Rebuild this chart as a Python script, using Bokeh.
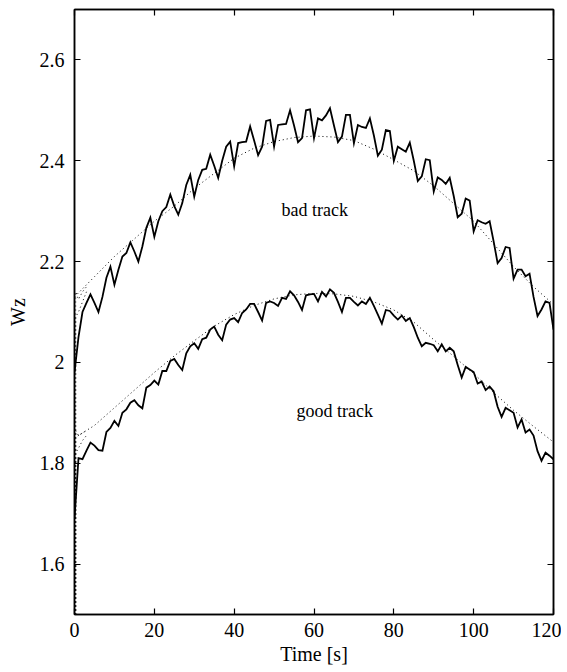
from bokeh.plotting import figure
from bokeh.models import LinearAxis, FixedTicker, Label, CustomJSTickFormatter
from bokeh.embed import file_html
from bokeh.resources import INLINE

# ---- data ----
time_s = list(range(0, 121))

bad_track = [
    1.98, 2.05, 2.10, 2.118, 2.135, 2.118, 2.10, 2.13, 2.168, 2.19,
    2.154, 2.184, 2.21, 2.217, 2.238, 2.22, 2.20, 2.23, 2.267, 2.287,
    2.249, 2.28, 2.30, 2.308, 2.333, 2.31, 2.293, 2.316, 2.352, 2.372,
    2.329, 2.362, 2.382, 2.384, 2.412, 2.39, 2.366, 2.40, 2.428, 2.438,
    2.389, 2.435, 2.437, 2.438, 2.468, 2.44, 2.411, 2.428, 2.479, 2.481,
    2.428, 2.471, 2.472, 2.473, 2.50, 2.47, 2.437, 2.445, 2.50, 2.502,
    2.445, 2.484, 2.48, 2.49, 2.504, 2.47, 2.437, 2.448, 2.491, 2.491,
    2.435, 2.471, 2.467, 2.465, 2.484, 2.45, 2.41, 2.422, 2.461, 2.459,
    2.40, 2.428, 2.423, 2.418, 2.436, 2.40, 2.36, 2.369, 2.403, 2.401,
    2.339, 2.367, 2.362, 2.354, 2.366, 2.33, 2.288, 2.295, 2.325, 2.321,
    2.26, 2.282, 2.278, 2.275, 2.28, 2.24, 2.197, 2.207, 2.229, 2.227,
    2.166, 2.184, 2.184, 2.171, 2.176, 2.13, 2.092, 2.105, 2.121, 2.118,
    2.065,
]

good_track = [
    1.69, 1.81, 1.808, 1.825, 1.841, 1.835, 1.826, 1.825, 1.862, 1.87,
    1.884, 1.874, 1.90, 1.907, 1.92, 1.925, 1.915, 1.909, 1.95, 1.955,
    1.964, 1.956, 1.983, 1.983, 2.003, 2.007, 1.995, 1.985, 2.018, 2.032,
    2.038, 2.027, 2.046, 2.049, 2.065, 2.071, 2.055, 2.044, 2.075, 2.085,
    2.088, 2.08, 2.098, 2.105, 2.116, 2.116, 2.10, 2.083, 2.118, 2.121,
    2.118, 2.112, 2.128, 2.126, 2.141, 2.133, 2.12, 2.104, 2.133, 2.135,
    2.136, 2.121, 2.140, 2.131, 2.145, 2.138, 2.12, 2.10, 2.128, 2.128,
    2.12, 2.113, 2.121, 2.116, 2.128, 2.112, 2.095, 2.077, 2.104, 2.102,
    2.093, 2.085, 2.093, 2.082, 2.088, 2.07, 2.049, 2.032, 2.039, 2.037,
    2.034, 2.022, 2.036, 2.022, 2.029, 2.022, 1.995, 1.97, 1.991, 1.986,
    1.981, 1.958, 1.962, 1.945, 1.952, 1.943, 1.912, 1.892, 1.91, 1.905,
    1.90, 1.871, 1.887, 1.861, 1.867, 1.855, 1.824, 1.805, 1.821, 1.815,
    1.808,
]

smooth_time = [0, 5, 10, 15, 20, 25, 30, 35, 40, 45, 50, 55, 60,
               65, 70, 75, 80, 85, 90, 95, 100, 105, 110, 115, 120]
bad_smooth = [2.13, 2.17, 2.21, 2.245, 2.28, 2.31, 2.345, 2.375, 2.405,
              2.425, 2.438, 2.446, 2.449, 2.447, 2.44, 2.423, 2.402, 2.38,
              2.35, 2.315, 2.28, 2.235, 2.19, 2.15, 2.115]
good_smooth = [1.85, 1.875, 1.91, 1.945, 1.98, 2.013, 2.043, 2.072, 2.095,
               2.113, 2.126, 2.134, 2.137, 2.136, 2.131, 2.12, 2.104, 2.08,
               2.045, 2.012, 1.978, 1.94, 1.905, 1.873, 1.842]

# initial transients of the estimates
init_time = [0.3, 0.3, 1.0, 2.0, 3.0]
bad_init_a = [1.50, 2.14, 2.125, 2.14, 2.15]
bad_init_b = [1.50, 2.09, 2.10, 2.12, 2.14]
good_init_a = [1.50, 1.865, 1.855, 1.86, 1.865]
good_init_b = [1.50, 1.82, 1.83, 1.845, 1.855]

x_ticks = [0, 20, 40, 60, 80, 100, 120]
y_ticks = [1.6, 1.8, 2.0, 2.2, 2.4, 2.6]
y_tick_labels = ["1.6", "1.8", "2", "2.2", "2.4", "2.6"]

FONT = "Liberation Serif"

p = figure(width=561, height=672, x_range=(0, 120), y_range=(1.5, 2.7),
           output_backend="svg", toolbar_location=None,
           min_border_left=74, min_border_right=8, min_border_top=9,
           min_border_bottom=58)
p.grid.visible = False
p.background_fill_color = "white"
p.border_fill_color = "white"
p.outline_line_color = "black"
p.outline_line_width = 1.5

# dotted estimates
for xs, ys in [(smooth_time, bad_smooth), (smooth_time, good_smooth),
               (init_time, bad_init_a), (init_time, bad_init_b),
               (init_time, good_init_a), (init_time, good_init_b)]:
    p.line(xs, ys, line_color="black", line_width=1, line_dash="1 3")

# measured tracks
p.line(time_s, bad_track, line_color="black", line_width=1.8, line_join="miter")
p.line(time_s, good_track, line_color="black", line_width=1.8, line_join="miter")

p.add_layout(Label(x=60.2, y=2.303, text="bad track", text_font=FONT,
                   text_font_size="18px", text_align="center",
                   text_baseline="middle", text_color="black"))
p.add_layout(Label(x=65.2, y=1.903, text="good track", text_font=FONT,
                   text_font_size="18px", text_align="center",
                   text_baseline="middle", text_color="black"))


def style_axis(ax, labels=True):
    ax.axis_line_color = "black"
    ax.axis_line_width = 1.5
    ax.major_tick_in = 6
    ax.major_tick_out = 0
    ax.major_tick_line_color = "black"
    ax.major_tick_line_width = 1.2
    ax.minor_tick_line_color = None
    ax.major_label_text_font = FONT
    ax.major_label_text_color = "black"
    ax.major_label_text_font_size = "20px"
    if labels:
        ax.major_label_standoff = 9
    else:
        ax.formatter = CustomJSTickFormatter(code="return ''")
        ax.major_label_standoff = 0


xb = p.xaxis[0]
xb.ticker = FixedTicker(ticks=x_ticks)
style_axis(xb)
xb.major_label_standoff = 8
xb.axis_label = "Time [s]"
xb.axis_label_text_font = FONT
xb.axis_label_text_font_size = "20px"
xb.axis_label_text_font_style = "normal"
xb.axis_label_text_color = "black"
xb.axis_label_standoff = 3

yl = p.yaxis[0]
yl.ticker = FixedTicker(ticks=y_ticks)
yl.major_label_overrides = {v: s for v, s in zip(y_ticks, y_tick_labels)}
style_axis(yl)
yl.major_label_standoff = 10
yl.axis_label = "Wz"
yl.axis_label_text_font = FONT
yl.axis_label_text_font_size = "20px"
yl.axis_label_text_font_style = "normal"
yl.axis_label_text_color = "black"
yl.axis_label_standoff = 8

yr = LinearAxis(ticker=FixedTicker(ticks=y_ticks))
style_axis(yr, labels=False)
p.add_layout(yr, "right")

xt = LinearAxis(ticker=FixedTicker(ticks=x_ticks))
style_axis(xt, labels=False)
p.add_layout(xt, "above")

open("out.html", "w").write(file_html(p, INLINE))
